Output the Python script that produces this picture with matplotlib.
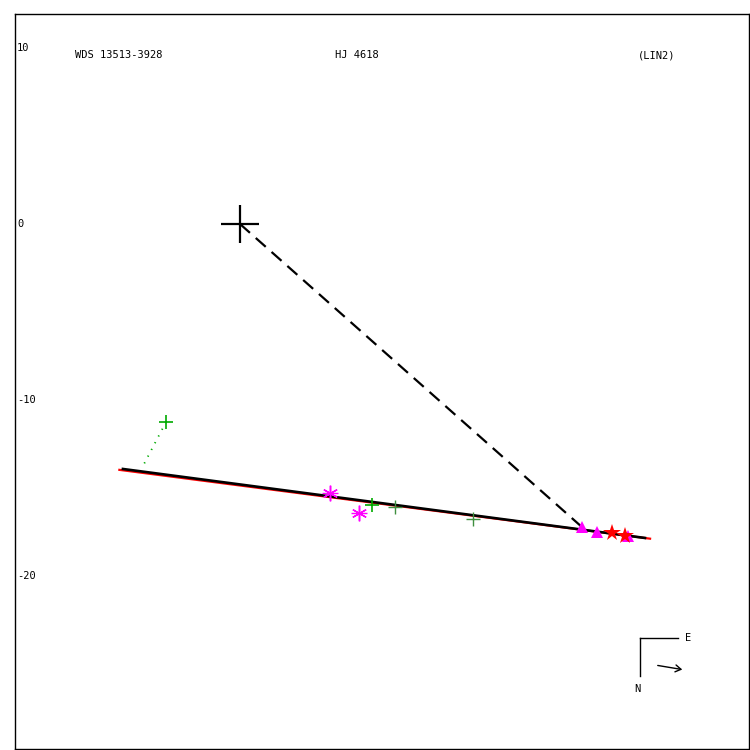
import matplotlib
matplotlib.use("Agg")
import matplotlib.pyplot as plt

# Data (arcsec)
primary = (0.0, 0.0)
fit_start = (-6.65, -13.92)
fit_end = (23.01, -17.84)
red_start = (-6.85, -13.97)
red_end = (23.3, -17.88)
dash_end = (19.43, -17.22)

green_bright_x = [-4.20, 7.50]
green_bright_y = [-11.25, -15.97]
green_dark_x = [8.81, 13.24]
green_dark_y = [-16.08, -16.76]
green_dot_x = [-4.20, -5.51]
green_dot_y = [-11.25, -13.75]

aster_x = [5.11, 6.76]
aster_y = [-15.28, -16.42]

tri_x = [19.43, 20.28, 22.05]
tri_y = [-17.22, -17.50, -17.73]

star_x = [21.14, 21.88]
star_y = [-17.56, -17.73]

yticks = [10, 0, -10, -20]
title_left = "WDS 13513-3928"
title_mid = "HJ 4618"
title_right = "(LIN2)"

fig = plt.figure(figsize=(7.5, 7.5), dpi=100)
ax = fig.add_axes([15/750, 1-749/750, 734/750, 735/750])
ax.set_xlim(-12.78, 28.92)
ax.set_ylim(-29.83, 11.93)
ax.set_xticks([])
ax.set_yticks([])
for s in ax.spines.values():
    s.set_linewidth(1.0)
    s.set_color('black')

mono = 'DejaVu Sans Mono'

# red line then black fit line
ax.plot([red_start[0], red_end[0]], [red_start[1], red_end[1]], color='red', lw=1.6, zorder=2)
ax.plot([fit_start[0], fit_end[0]], [fit_start[1], fit_end[1]], color='black', lw=1.9, zorder=3)

# dashed line from primary
ax.plot([primary[0], dash_end[0]], [primary[1], dash_end[1]], color='black', lw=1.6,
        dashes=(6, 3.5), zorder=3)

# primary cross
ax.plot([primary[0]], [primary[1]], marker='+', color='black', markersize=27, mew=1.6, zorder=4)

# green observations
ax.plot(green_dot_x, green_dot_y, color='#00aa00', lw=1.3, linestyle=(0, (0.7, 3.5)), zorder=3)
ax.plot(green_bright_x, green_bright_y, linestyle='none', marker='+', color='#00aa00',
        markersize=10, mew=1.2, zorder=4)
ax.plot(green_dark_x, green_dark_y, linestyle='none', marker='+', color='#3f8f3f',
        markersize=10, mew=1.0, zorder=4)

# magenta asterisks
ax.plot(aster_x, aster_y, linestyle='none', marker=(6, 2, 0), color='#ff00ff',
        markersize=11, mew=1.0, zorder=4)
ax.plot(aster_x, aster_y, linestyle='none', marker='+', color='#ff00ff',
        markersize=11, mew=1.0, zorder=4)

# magenta triangles
ax.plot(tri_x, tri_y, linestyle='none', marker='^', color='#ff00ff',
        markersize=9, mew=0, zorder=4)

# red stars
ax.plot(star_x, star_y, linestyle='none', marker='*', color='red',
        markersize=13, mew=0, zorder=5)

# y tick labels inside
for v in yticks:
    ax.text(0.003, v, str(v), transform=ax.get_yaxis_transform(), ha='left', va='center',
            fontsize=7.5, family=mono)

# header texts
fig.text(75/750, 1-55/750, title_left, ha='left', va='center', fontsize=7.5, family=mono)
fig.text(335/750, 1-55/750, title_mid, ha='left', va='center', fontsize=7.5, family=mono)
fig.text(638/750, 1-55/750, title_right, ha='left', va='center', fontsize=7.5, family=mono)

# compass
def fx(px):
    return px/750
def fy(py):
    return 1 - py/750
fig.add_artist(plt.Line2D([fx(640), fx(640)], [fy(638), fy(676)], color='black', lw=1,
                          transform=fig.transFigure))
fig.add_artist(plt.Line2D([fx(640), fx(678)], [fy(638), fy(638)], color='black', lw=1,
                          transform=fig.transFigure))
fig.text(fx(688), fy(638), 'E', ha='center', va='center', fontsize=7.5, family=mono)
fig.text(fx(637), fy(689), 'N', ha='center', va='center', fontsize=7.5, family=mono)
fig.patches.append(matplotlib.patches.FancyArrowPatch(
    (fx(655), fy(665)), (fx(685), fy(670)), transform=fig.transFigure,
    arrowstyle='->,head_length=4,head_width=2.5', color='black', lw=1, figure=fig))

fig.savefig('out.png', dpi=100)
